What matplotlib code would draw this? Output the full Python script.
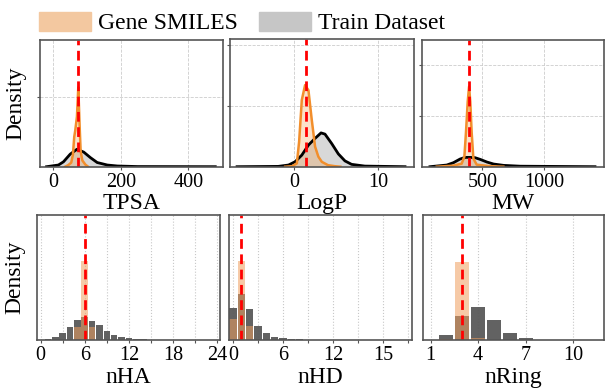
import numpy as np
import matplotlib.pyplot as plt
from matplotlib.patches import Patch

plt.rcParams['font.family'] = ['Liberation Serif', 'DejaVu Serif']

# ---- top row: kde curves (x, density) ----
tpsa_train_x = [-20, 15, 30, 50, 70, 90, 110, 130, 160, 190, 250, 480]
tpsa_train_y = [0, 0.00024, 0.0007, 0.0018, 0.0025, 0.0021, 0.0013, 0.0006, 0.00024, 0.0001, 0.00002, 0]
tpsa_gene_x = [35, 44, 53, 58, 62, 65, 70, 74, 78, 81, 86, 95, 103]
tpsa_gene_y = [0, 0.00022, 0.00058, 0.0017, 0.0043, 0.0052, 0.0072, 0.0114, 0.0058, 0.0022, 0.0009, 0.0003, 0]

logp_train_x = [-6.8, -1.9, -0.67, 0.12, 0.91, 1.7, 2.49, 3.2, 3.67, 4.47, 5.26, 6.05, 6.84, 8.42, 13.2]
logp_train_y = [0, 0.001, 0.0055, 0.0164, 0.038, 0.071, 0.093, 0.111, 0.107, 0.076, 0.042, 0.019, 0.0077, 0.002, 0]
logp_gene_x = [-1.07, -0.24, 0.32, 0.59, 0.91, 1.30, 1.70, 2.10, 2.49, 2.88, 3.29, 4.03, 4.86, 5.5]
logp_gene_y = [0, 0.0016, 0.011, 0.082, 0.219, 0.268, 0.251, 0.153, 0.066, 0.033, 0.016, 0.005, 0.0016, 0]

mw_train_x = [76, 212, 266, 320, 361, 402, 442, 483, 538, 592, 673, 808, 1414]
mw_train_y = [0, 0.000164, 0.000394, 0.000755, 0.000918, 0.000918, 0.000886, 0.000722, 0.000459, 0.000262, 0.000131, 0.000049, 0]
mw_gene_x = [131, 265, 333, 355, 368, 382, 393, 403, 414, 428, 455, 563, 671]
mw_gene_y = [0, 0.0001, 0.0003, 0.001, 0.0034, 0.0064, 0.0079, 0.0064, 0.0034, 0.0008, 0.0002, 0.00005, 0]

# red dashed reference values
tpsa_ref, logp_ref, mw_ref = 74, 1.42, 395

# ---- bottom row: histograms (integer bins, density) ----
nha_bins = list(range(1, 17))
nha_train = [0.005, 0.021, 0.054, 0.107, 0.164, 0.188, 0.155, 0.121, 0.070, 0.043, 0.027, 0.019, 0.011, 0.005, 0.003, 0.001]
nha_gene = [0, 0, 0, 0.004, 0.102, 0.633, 0.107, 0.004, 0, 0, 0, 0, 0, 0, 0, 0]

nhd_bins = list(range(0, 10))
nhd_train = [0.257, 0.365, 0.249, 0.115, 0.056, 0.027, 0.019, 0.011, 0.005, 0.003]
nhd_gene = [0.169, 0.633, 0.115, 0.004, 0, 0, 0, 0, 0, 0]

nring_bins = list(range(2, 9))
nring_train = [0.040, 0.196, 0.263, 0.164, 0.056, 0.013, 0.003]
nring_gene = [0.008, 0.625, 0.016, 0, 0, 0, 0]

nha_ref, nhd_ref, nring_ref = 6, 1, 3

orange = '#f28e2b'
spine_c = '#555555'

fig = plt.figure(figsize=(6.05, 3.88), dpi=100)

W, H = 605.0, 388.0
def box(x0, x1, y0, y1):
    return [x0 / W, 1 - y1 / H, (x1 - x0) / W, (y1 - y0) / H]

top_pos = [box(40, 222.7, 39.5, 166.7), box(229.5, 414, 38.5, 166.7), box(421.7, 604, 39.5, 166.7)]
bot_pos = [box(36.5, 219.5, 215, 340), box(229, 411.7, 215, 340), box(422.7, 604, 215, 340)]

top_data = [
    (tpsa_train_x, tpsa_train_y, tpsa_gene_x, tpsa_gene_y, tpsa_ref, 'TPSA',
     (-39.5, 502), 0.01826, [0, 200, 400], [0.01]),
    (logp_train_x, logp_train_y, logp_gene_x, logp_gene_y, logp_ref, 'LogP',
     (-7.7, 14.27), 0.421, [0, 10], [0.2, 0.4]),
    (mw_train_x, mw_train_y, mw_gene_x, mw_gene_y, mw_ref, 'MW',
     (9, 1487), 0.01254, [500, 1000], [0.005, 0.01]),
]

for i, (tx, ty, gx, gy, ref, name, xl, ytop, xt, yt) in enumerate(top_data):
    ax = fig.add_axes(top_pos[i])
    ax.fill_between(tx, ty, color='#d4d4d4', alpha=0.9, lw=0)
    ax.plot(tx, ty, color='black', lw=2)
    ax.fill_between(gx, gy, color=orange, alpha=0.25, lw=0)
    ax.plot(gx, gy, color=orange, lw=1.8)
    ax.axvline(ref, color='red', ls=(0, (3.5, 2)), lw=2)
    ax.set_xlim(xl)
    ax.set_ylim(0, ytop)
    ax.set_xticks(xt)
    ax.set_yticks(yt)
    ax.set_yticklabels([])
    ax.grid(True, ls='--', lw=0.6, color='#cccccc')
    ax.set_axisbelow(True)
    ax.tick_params(axis='x', length=2.5, color=spine_c, labelsize=14.5, pad=2)
    ax.tick_params(axis='y', length=2, color=spine_c)
    ax.set_xlabel(name, fontsize=17, labelpad=1)
    for s in ax.spines.values():
        s.set_color(spine_c)
        s.set_linewidth(1.2)
    if i == 0:
        ax.set_ylabel('Density', fontsize=17, labelpad=4)

bot_data = [
    (nha_bins, nha_train, nha_gene, nha_ref, 'nHA', (-0.55, 24.3),
     list(range(0, 25, 3)), ['0', '', '6', '', '12', '', '18', '', '24']),
    (nhd_bins, nhd_train, nhd_gene, nhd_ref, 'nHD', (-0.5, 21.45),
     list(range(0, 22, 3)), ['0', '', '6', '', '12', '', '15', '']),
    (nring_bins, nring_train, nring_gene, nring_ref, 'nRing', (0.5, 11.95),
     [1, 4, 7, 10], ['1', '4', '7', '10']),
]

for i, (bins, tr, ge, ref, name, xl, xt, xtl) in enumerate(bot_data):
    ax = fig.add_axes(bot_pos[i])
    ax.bar(bins, tr, width=0.88, color='#595959', alpha=0.95, lw=0)
    ax.bar(bins, ge, width=0.88, color='#f0a060', alpha=0.55, lw=0)
    ax.axvline(ref, color='red', ls=(0, (3.5, 2)), lw=2)
    ax.set_xlim(xl)
    ax.set_ylim(0, 1.0)
    ax.set_xticks(xt)
    ax.set_xticklabels(xtl)
    ax.set_yticks([])
    ax.grid(True, axis='x', ls=':', lw=0.8, color='#c8c8c8')
    ax.set_axisbelow(True)
    ax.tick_params(axis='x', length=2.5, color=spine_c, labelsize=14.5, pad=2)
    ax.set_xlabel(name, fontsize=17, labelpad=1)
    for s in ax.spines.values():
        s.set_color(spine_c)
        s.set_linewidth(1.2)
    if i == 0:
        ax.set_ylabel('Density', fontsize=17, labelpad=8)

handles = [Patch(color='#f3c8a0', label='Gene SMILES'),
           Patch(color='#c6c6c6', label='Train Dataset')]
fig.legend(handles=handles, loc='center left', bbox_to_anchor=(39 / W, 1 - 23 / H),
           ncol=2, frameon=False, fontsize=17, borderpad=0, borderaxespad=0,
           handlelength=2.2, handleheight=0.85, handletextpad=0.3, columnspacing=0.88)

fig.savefig('out.png', dpi=100)
